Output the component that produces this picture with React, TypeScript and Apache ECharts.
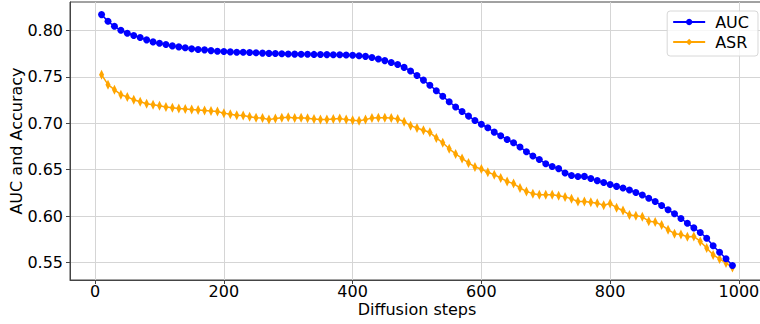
import React, { useEffect, useRef } from "react";
import * as echarts from "echarts";

const steps = [
  10, 20, 30, 40, 50, 60, 70, 80, 90, 100,
  110, 120, 130, 140, 150, 160, 170, 180, 190, 200,
  210, 220, 230, 240, 250, 260, 270, 280, 290, 300,
  310, 320, 330, 340, 350, 360, 370, 380, 390, 400,
  410, 420, 430, 440, 450, 460, 470, 480, 490, 500,
  510, 520, 530, 540, 550, 560, 570, 580, 590, 600,
  610, 620, 630, 640, 650, 660, 670, 680, 690, 700,
  710, 720, 730, 740, 750, 760, 770, 780, 790, 800,
  810, 820, 830, 840, 850, 860, 870, 880, 890, 900,
  910, 920, 930, 940, 950, 960, 970, 980, 990,
];

const auc = [
  0.8172, 0.81, 0.8046, 0.8003, 0.7971, 0.7946, 0.7925, 0.79, 0.7878, 0.7863,
  0.7849, 0.7835, 0.7824, 0.7814, 0.7803, 0.7795, 0.7792, 0.7784, 0.7777, 0.7774,
  0.777, 0.7766, 0.7766, 0.7763, 0.776, 0.7757, 0.7754, 0.7752, 0.775, 0.7748,
  0.7746, 0.7745, 0.7744, 0.7743, 0.7742, 0.7741, 0.774, 0.7739, 0.7737, 0.7734,
  0.7728, 0.7722, 0.771, 0.7694, 0.7676, 0.7656, 0.7634, 0.7603, 0.7565, 0.7515,
  0.7466, 0.741, 0.7352, 0.7292, 0.7233, 0.7176, 0.7127, 0.7078, 0.7031, 0.699,
  0.6952, 0.6905, 0.6866, 0.6826, 0.679, 0.6744, 0.6694, 0.6648, 0.661, 0.6565,
  0.6535, 0.6512, 0.6465, 0.6437, 0.6427, 0.6428, 0.6405, 0.6382, 0.6362, 0.634,
  0.632, 0.6302, 0.6281, 0.6254, 0.6227, 0.6192, 0.6157, 0.6114, 0.6068, 0.6025,
  0.5974, 0.5923, 0.5873, 0.5823, 0.5762, 0.568, 0.5611, 0.554, 0.5468,
];

const asr = [
  0.7525, 0.7417, 0.7363, 0.7309, 0.7284, 0.7255, 0.7233, 0.7212, 0.7201, 0.719,
  0.7176, 0.7168, 0.716, 0.7154, 0.715, 0.7143, 0.7139, 0.7132, 0.7128, 0.711,
  0.7099, 0.7088, 0.7084, 0.7072, 0.7061, 0.7058, 0.704, 0.7051, 0.7061, 0.7065,
  0.7058, 0.7061, 0.7054, 0.7047, 0.704, 0.704, 0.7047, 0.7051, 0.704, 0.7032,
  0.7029, 0.704, 0.7058, 0.7061, 0.7061, 0.7058, 0.7047, 0.7018, 0.6975, 0.695,
  0.6925, 0.6903, 0.6843, 0.679, 0.6726, 0.667, 0.6622, 0.6573, 0.653, 0.6508,
  0.6472, 0.6447, 0.6411, 0.6374, 0.635, 0.6303, 0.6266, 0.6242, 0.6231, 0.6231,
  0.6229, 0.622, 0.6207, 0.6186, 0.6157, 0.6157, 0.615, 0.6139, 0.6118, 0.6135,
  0.609, 0.606, 0.6012, 0.6005, 0.5992, 0.5945, 0.5936, 0.5903, 0.5853, 0.581,
  0.5802, 0.5778, 0.5781, 0.5727, 0.5656, 0.5581, 0.5538, 0.5494, 0.5447,
];

const xTicks = [0, 200, 400, 600, 800, 1000];
const yTicks = [0.55, 0.6, 0.65, 0.7, 0.75, 0.8];

const FONT = "DejaVu Sans";

export default function App() {
  const ref = useRef<HTMLDivElement>(null);
  useEffect(() => {
    if (!ref.current) return;
    const chart = echarts.init(ref.current, null, { renderer: "svg" });
    const gridLine = { show: true, lineStyle: { color: "#d5d5d5", width: 1 } };
    chart.setOption({
      animation: false,
      backgroundColor: "#ffffff",
      textStyle: { fontFamily: FONT },
      grid: {
        left: 70,
        top: 2,
        width: 694,
        height: 278,
        containLabel: false,
        outerBoundsMode: "none",
        show: true,
        borderColor: "#444",
        borderWidth: 1,
        backgroundColor: "transparent",
      },
      legend: {
        right: 2,
        top: 11,
        orient: "vertical",
        itemWidth: 32,
        itemHeight: 8,
        itemGap: 4,
        padding: [3, 9, 6, 5],
        backgroundColor: "rgba(255,255,255,0.8)",
        borderColor: "#d8d8d8",
        borderWidth: 1,
        borderRadius: 3,
        textStyle: { fontFamily: FONT, fontSize: 16, color: "#000", padding: [0, 0, 0, 5] },
        data: ["AUC", "ASR"],
      },
      xAxis: {
        type: "value",
        min: -39,
        max: 1039,
        name: "Diffusion steps",
        nameLocation: "middle",
        nameGap: 21,
        nameMoveOverlap: false,
        nameTextStyle: { fontFamily: FONT, fontSize: 16, color: "#000" },
        axisLine: { show: true, onZero: false, lineStyle: { color: "#444", width: 1 } },
        axisTick: { show: true, length: 4, customValues: xTicks, lineStyle: { color: "#444" } },
        axisLabel: {
          customValues: xTicks,
          margin: 3,
          fontFamily: FONT,
          fontSize: 16,
          color: "#000",
          formatter: (v: number) => String(v),
        },
        splitLine: gridLine,
      },
      yAxis: {
        type: "value",
        min: 0.5311,
        max: 0.8308,
        name: "AUC and Accuracy",
        nameLocation: "middle",
        nameGap: 46,
        nameMoveOverlap: false,
        nameTextStyle: { fontFamily: FONT, fontSize: 16, color: "#000" },
        axisLine: { show: true, onZero: false, lineStyle: { color: "#444", width: 1 } },
        axisTick: { show: true, length: 4, customValues: yTicks, lineStyle: { color: "#444" } },
        axisLabel: {
          customValues: yTicks,
          margin: 7,
          fontFamily: FONT,
          fontSize: 16,
          color: "#000",
          formatter: (v: number) => v.toFixed(2),
        },
        splitLine: gridLine,
      },
      series: [
        {
          name: "AUC",
          type: "line",
          data: steps.map((s, i) => [s, auc[i]]),
          symbol: "circle",
          symbolSize: 7,
          showSymbol: true,
          lineStyle: { color: "#0000ff", width: 1.5 },
          itemStyle: { color: "#0000ff" },
          z: 3,
        },
        {
          name: "ASR",
          type: "line",
          data: steps.map((s, i) => [s, asr[i]]),
          symbol: "diamond",
          symbolSize: [5, 10],
          showSymbol: true,
          lineStyle: { color: "#ffa500", width: 1.5 },
          itemStyle: { color: "#ffa500" },
          z: 2,
        },
      ],
    });
    return () => chart.dispose();
  }, []);
  return (
    <div
      ref={ref}
      style={{ position: "fixed", left: 0, top: 0, width: 760, height: 324 }}
    />
  );
}
